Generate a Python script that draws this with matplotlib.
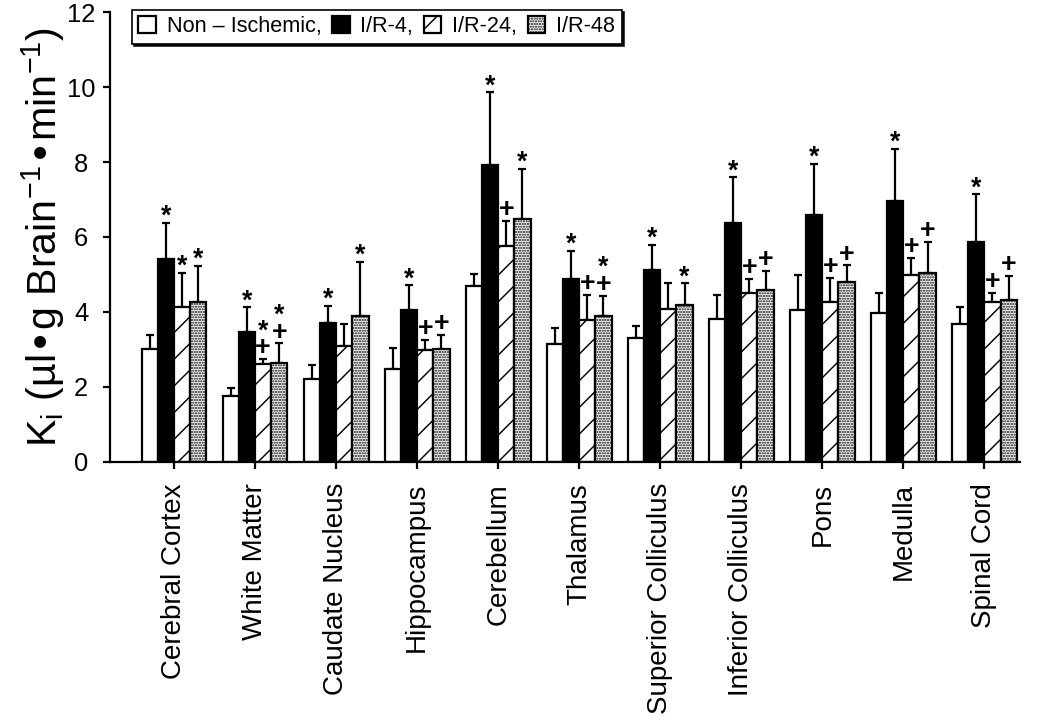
import matplotlib.pyplot as plt
import numpy as np

# data
regions = ['Cerebral Cortex', 'White Matter', 'Caudate Nucleus', 'Hippocampus',
           'Cerebellum', 'Thalamus', 'Superior Colliculus', 'Inferior Colliculus',
           'Pons', 'Medulla', 'Spinal Cord']
groups = ['Non \u2013 Ischemic,', 'I/R-4,', 'I/R-24,', 'I/R-48']

non_isch = [3.02, 1.77, 2.21, 2.47, 4.70, 3.14, 3.31, 3.81, 4.06, 3.97, 3.68]
non_isch_err = [0.37, 0.21, 0.38, 0.56, 0.32, 0.43, 0.32, 0.64, 0.93, 0.54, 0.46]
ir4 = [5.40, 3.47, 3.71, 4.05, 7.92, 4.88, 5.11, 6.36, 6.58, 6.95, 5.87]
ir4_err = [0.98, 0.65, 0.46, 0.67, 1.94, 0.75, 0.68, 1.24, 1.38, 1.41, 1.27]
ir24 = [4.14, 2.60, 3.10, 2.99, 5.77, 3.78, 4.08, 4.50, 4.27, 4.99, 4.27]
ir24_err = [0.91, 0.14, 0.58, 0.26, 0.66, 0.68, 0.69, 0.39, 0.63, 0.45, 0.23]
ir48 = [4.27, 2.63, 3.89, 3.02, 6.49, 3.90, 4.18, 4.59, 4.81, 5.05, 4.31]
ir48_err = [0.96, 0.53, 1.45, 0.36, 1.33, 0.53, 0.58, 0.51, 0.43, 0.82, 0.65]

# significance marks, read top to bottom
marks_ir4 = ['*'] * 11
marks_ir24 = ['*', '*+', '', '+', '+', '+', '', '+', '+', '+', '+']
marks_ir48 = ['*', '*+', '*', '+', '*', '*+', '*', '+', '+', '+', '+']

plt.rcParams['font.family'] = ['Liberation Sans', 'DejaVu Sans']
plt.rcParams['hatch.linewidth'] = 1.3

fig = plt.figure(figsize=(13.125, 9.0375), dpi=80)
ax = fig.add_axes([0.1048, 0.361, 0.8666, 0.6224])

x = np.arange(len(regions))
w = 0.2
series = [(non_isch, non_isch_err, 'white', ''),
          (ir4, ir4_err, 'black', ''),
          (ir24, ir24_err, 'white', '/'),
          (ir48, ir48_err, 'white', '.....')]
offsets = [-1.5 * w, -0.5 * w, 0.5 * w, 1.5 * w]

for (vals, errs, fc, hatch), off, lab in zip(series, offsets, groups):
    ax.bar(x + off, vals, w, color=fc, edgecolor='black', linewidth=2,
           hatch=hatch, label=lab, zorder=2)
    ax.errorbar(x + off, vals, yerr=[np.zeros(len(errs)), errs], fmt='none',
                ecolor='black', elinewidth=2, capsize=3.2, capthick=2, zorder=1)

# '*' and '+' above the error bars (one text per bar, stacked lines)
shift = {'*': -6.5, '+': -2.0}
for marks, vals, errs, off in [(marks_ir4, ir4, ir4_err, offsets[1]),
                               (marks_ir24, ir24, ir24_err, offsets[2]),
                               (marks_ir48, ir48, ir48_err, offsets[3])]:
    for i, m in enumerate(marks):
        if not m:
            continue
        ax.annotate('\n'.join(m), (x[i] + off, vals[i] + errs[i]),
                    xytext=(0, shift[m[-1]]), textcoords='offset points',
                    ha='center', va='bottom', fontsize=24, fontweight='bold',
                    linespacing=0.55)

ax.set_xlim(-0.79, 10.44)
ax.set_ylim(0, 12)
ax.set_yticks(range(0, 13, 2))
ax.set_xticks(x)
ax.set_xticklabels(regions, rotation=90, fontsize=25)
ax.tick_params(axis='y', labelsize=23, width=2, length=6, direction='out', pad=20)
for t in ax.get_yticklabels():
    t.set_horizontalalignment('center')
ax.tick_params(axis='x', width=2, length=6, direction='out', pad=13)
for s in ['top', 'right']:
    ax.spines[s].set_visible(False)
for s in ['left', 'bottom']:
    ax.spines[s].set_linewidth(2)

ax.set_ylabel(r'K$_\mathregular{i}$ (µl•g Brain$^\mathregular{-1}$•min$^\mathregular{-1}$)',
              fontsize=37, labelpad=0)

leg = ax.legend(loc='upper left', bbox_to_anchor=(0.024, 1.005), ncol=4,
                fontsize=19.5, frameon=True, fancybox=False,
                shadow={'color': 'black', 'alpha': 0.9},
                handlelength=0.8, handleheight=0.8, handletextpad=0.5,
                columnspacing=0.5, borderpad=0.3, borderaxespad=0)
leg.get_frame().set_edgecolor('black')
leg.get_frame().set_linewidth(1.5)

fig.savefig('out.png', dpi=80)
